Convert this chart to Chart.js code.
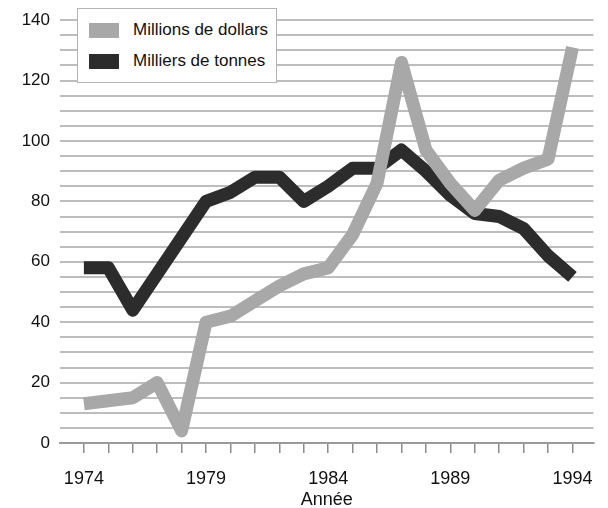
<!DOCTYPE html>
<html>
<head>
<meta charset="utf-8">
<script src="https://cdn.jsdelivr.net/npm/chart.js@4.4.1/dist/chart.umd.min.js"></script>
<style>
html,body{margin:0;padding:0;background:#fff;}
#wrap{position:relative;width:608px;height:508px;}
#legend{position:absolute;left:77px;top:8px;width:200px;height:75px;background:#fff;border:1.5px solid #b4b4b4;box-sizing:border-box;font-family:"Liberation Sans",Arial,Helvetica,sans-serif;font-size:17px;color:#111;}
.item{position:absolute;left:11px;height:16px;display:flex;align-items:center;white-space:nowrap;}
.sw{width:30px;height:15px;margin-right:14px;flex:none;}
</style>
</head>
<body>
<div id="wrap">
<canvas id="c" width="608" height="508"></canvas>
<div id="legend"></div>
</div>
<script>
const years = [1974,1975,1976,1977,1978,1979,1980,1981,1982,1983,1984,1985,1986,1987,1988,1989,1990,1991,1992,1993,1994];
const dollars = [13,14,15,20,4,40,42,47,52,56,58,69,86,126,97,86,77,87,91,94,131];
const tonnes = [58,58,44,56,68,80,83,88,88,80,85,91,91,97,90,82,76,75,71,62,55];
const yTickLabels = [0,20,40,60,80,100,120,140];
const xTickLabels = [1974,1979,1984,1989,1994];
const seriesNames = ["Millions de dollars","Milliers de tonnes"];
const axisTitle = "Année";

const FONT = '"Liberation Sans", Arial, Helvetica, sans-serif';

const toPts = arr => years.map((y,i)=>({x:y, y:arr[i]}));

const datasets = [
  {label: seriesNames[0], data: toPts(dollars), borderColor:'#a8a8a8', backgroundColor:'#a8a8a8'},
  {label: seriesNames[1], data: toPts(tonnes), borderColor:'#2c2c2c', backgroundColor:'#2c2c2c'}
].map(d=>Object.assign(d,{borderWidth:13, pointRadius:0, fill:false, tension:0, borderCapStyle:'butt', borderJoinStyle:'round', clip:false}));

const chart = new Chart(document.getElementById('c'), {
  type:'line',
  data:{datasets},
  options:{
    responsive:false,
    animation:false,
    events:[],
    layout:{padding:{left:0,right:12,top:17,bottom:0}},
    plugins:{legend:{display:false}, tooltip:{enabled:false}},
    scales:{
      x:{
        type:'linear',
        min:1973.022, max:1994.855,
        afterFit:s=>{s.height=65;},
        afterBuildTicks:s=>{s.ticks = years.map(v=>({value:v}));},
        grid:{drawOnChartArea:false, drawTicks:true, tickLength:10, color:'#8c8c8c', lineWidth:1.5},
        border:{display:true, color:'#9a9a9a', width:2},
        ticks:{autoSkip:false, maxRotation:0, padding:15, color:'#111', font:{family:FONT,size:18},
          callback:v=> xTickLabels.includes(v) ? String(v) : ''},
        title:{display:true, text:axisTitle, color:'#111', font:{family:FONT,size:18}, padding:{top:0,bottom:-3}}
      },
      y:{
        min:0, max:140,
        afterFit:s=>{s.width=60;},
        afterBuildTicks:s=>{const t=[]; for(let v=0; v<=140; v+=5) t.push({value:v}); s.ticks=t;},
        grid:{drawTicks:false, color:'#bdbdbd', lineWidth:2},
        border:{display:false},
        ticks:{autoSkip:false, padding:10, color:'#111', font:{family:FONT,size:17},
          callback:v=> yTickLabels.includes(v) ? String(v) : ''}
      }
    }
  }
});

// HTML legend built from the chart's datasets
const leg = document.getElementById('legend');
chart.data.datasets.forEach((d,i)=>{
  const it = document.createElement('div');
  it.className='item';
  it.style.top = (13 + i*31) + 'px';
  const sw = document.createElement('span');
  sw.className='sw'; sw.style.background = d.backgroundColor;
  const tx = document.createElement('span');
  tx.textContent = d.label;
  it.appendChild(sw); it.appendChild(tx);
  leg.appendChild(it);
});
</script>
</body>
</html>
